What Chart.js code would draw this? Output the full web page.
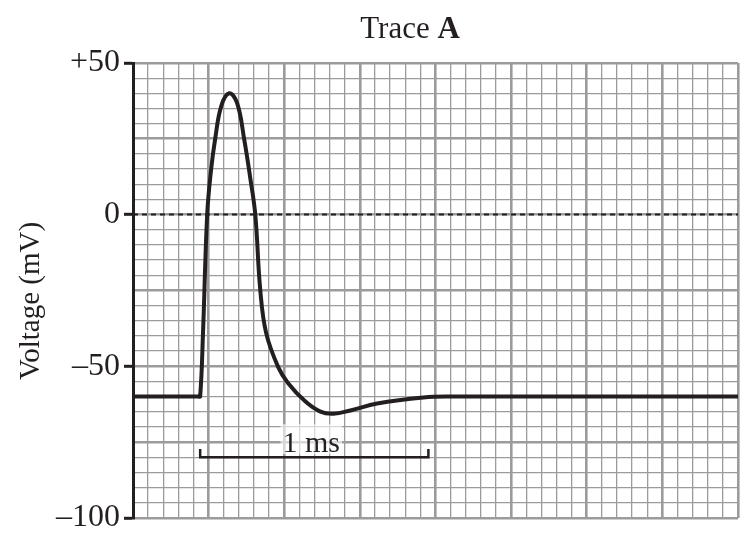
<!DOCTYPE html>
<html>
<head>
<meta charset="utf-8">
<script src="https://cdn.jsdelivr.net/npm/chart.js@4/dist/chart.umd.min.js"></script>
<style>
  html, body { margin: 0; padding: 0; background: #ffffff; }
  #wrap { width: 747px; height: 541px; }
</style>
</head>
<body>
<div id="wrap"><canvas id="c" width="747" height="541"></canvas></div>
<script>
// ---- data (time in ms, voltage in mV) ----
const traceTime    = [0, 0.287, 0.296, 0.309, 0.327, 0.344, 0.362, 0.389, 0.424, 0.459, 0.490, 0.517, 0.539, 0.561, 0.587, 0.640, 0.684, 0.759, 0.826, 0.883, 0.958, 1.076, 1.280, 1.400, 2.667];
const traceVoltage = [-60, -60, -60, -38.1, 0, 14.7, 24.9, 35.8, 40, 36.8, 24.9, 12.0, 0, -24.9, -39.1, -50.3, -55.6, -61.6, -65.0, -65.7, -64.6, -62.3, -60.3, -60, -60];
const zeroLineTime    = [0, 2.667];
const zeroLineVoltage = [0, 0];
const scaleBarTime    = [0.296, 0.296, 1.302, 1.302];
const scaleBarVoltage = [-77.3, -80, -80, -77.3];
const scaleBarLabel = '1 ms';
const yTickLabels = { '50': '+50', '0': '0', '-50': '\u201350', '-100': '\u2013100' };
const titleRegular = 'Trace ';
const titleBold = 'A';
const yAxisTitle = 'Voltage (mV)';
const xMin = 0, xMax = 8 / 3, xMinorCount = 40;
const yMin = -100, yMax = 50, yStep = 5;

const toXY = (xs, ys) => xs.map((x, i) => ({ x: x, y: ys[i] }));

const INK = '#231f20';
const GRID = '#9b9b9b';
const SERIF = '"Liberation Serif", "Times New Roman", serif';

const textPlugin = {
  id: 'texts',
  beforeDatasetsDraw(chart) {
    const ctx = chart.ctx;
    const xs = chart.scales.x, ys = chart.scales.y;
    const mid = (scaleBarTime[1] + scaleBarTime[2]) / 2;
    const cx = xs.getPixelForValue(mid) - 3;
    const by = ys.getPixelForValue(scaleBarVoltage[1]);
    ctx.save();
    ctx.font = '30px ' + SERIF;
    const w = ctx.measureText(scaleBarLabel).width;
    ctx.fillStyle = 'rgba(255,255,255,0.6)';
    ctx.fillRect(cx - w / 2 - 2, by - 33, w + 4, 30);
    ctx.restore();
  },
  afterDraw(chart) {
    const ctx = chart.ctx;
    const xs = chart.scales.x, ys = chart.scales.y;
    ctx.save();
    ctx.fillStyle = INK;
    // title
    ctx.textBaseline = 'alphabetic';
    ctx.textAlign = 'left';
    ctx.font = '31px ' + SERIF;
    const w1 = ctx.measureText(titleRegular).width;
    ctx.font = 'bold 31px ' + SERIF;
    const w2 = ctx.measureText(titleBold).width;
    const tx = 410 - (w1 + w2) / 2;
    ctx.font = '31px ' + SERIF;
    ctx.fillText(titleRegular, tx, 38);
    ctx.font = 'bold 31px ' + SERIF;
    ctx.fillText(titleBold, tx + w1, 38);
    // y axis title
    ctx.save();
    ctx.translate(31, 301);
    ctx.rotate(-Math.PI / 2);
    ctx.textAlign = 'center';
    ctx.textBaseline = 'middle';
    ctx.font = '29px ' + SERIF;
    ctx.fillText(yAxisTitle, 0, 0);
    ctx.restore();
    // scale bar label
    const mid = (scaleBarTime[1] + scaleBarTime[2]) / 2;
    const cx = xs.getPixelForValue(mid) - 3;
    const by = ys.getPixelForValue(scaleBarVoltage[1]);
    ctx.textAlign = 'center';
    ctx.textBaseline = 'alphabetic';
    ctx.font = '30px ' + SERIF;
    ctx.fillText(scaleBarLabel, cx, by - 5);
    ctx.restore();
  }
};

new Chart(document.getElementById('c'), {
  type: 'line',
  data: {
    datasets: [
      {
        label: 'trace',
        data: toXY(traceTime, traceVoltage),
        borderColor: INK,
        borderWidth: 4,
        pointRadius: 0,
        tension: 0.4,
        borderJoinStyle: 'round',
        borderCapStyle: 'round',
        fill: false,
        order: 0
      },
      {
        label: 'zero',
        data: toXY(zeroLineTime, zeroLineVoltage),
        borderColor: INK,
        borderWidth: 2,
        borderDash: [5, 4],
        pointRadius: 0,
        fill: false,
        order: 2
      },
      {
        label: 'scalebar',
        data: toXY(scaleBarTime, scaleBarVoltage),
        borderColor: INK,
        borderWidth: 2.5,
        pointRadius: 0,
        tension: 0,
        fill: false,
        order: 1
      }
    ]
  },
  options: {
    responsive: false,
    animation: false,
    devicePixelRatio: 1,
    layout: { padding: { top: 63, right: 9, bottom: 23, left: 0 } },
    plugins: { legend: { display: false }, title: { display: false }, tooltip: { enabled: false } },
    scales: {
      x: {
        type: 'linear',
        min: xMin,
        max: xMax,
        afterBuildTicks: (scale) => {
          const t = [];
          for (let i = 0; i <= xMinorCount; i++) t.push({ value: xMin + (xMax - xMin) * i / xMinorCount });
          scale.ticks = t;
        },
        ticks: { display: false },
        border: { display: false },
        grid: {
          drawTicks: false,
          color: GRID,
          lineWidth: (c) => (c.index % 5 === 0 ? 2.6 : 1.3)
        }
      },
      y: {
        type: 'linear',
        min: yMin,
        max: yMax,
        afterFit: (scale) => { scale.width = 133; },
        ticks: {
          stepSize: yStep,
          autoSkip: false,
          padding: 4,
          color: INK,
          font: { family: SERIF, size: 32 },
          callback: (v) => (yTickLabels[String(v)] !== undefined ? yTickLabels[String(v)] : '')
        },
        border: { display: true, color: INK, width: 3 },
        grid: {
          color: GRID,
          lineWidth: (c) => (c.tick && c.tick.value % 25 === 0 ? 2.6 : 1.3),
          tickLength: 9,
          tickWidth: 3,
          tickColor: (c) => (c.tick && yTickLabels[String(c.tick.value)] !== undefined ? INK : 'rgba(0,0,0,0)')
        }
      }
    }
  },
  plugins: [textPlugin]
});
</script>
</body>
</html>
